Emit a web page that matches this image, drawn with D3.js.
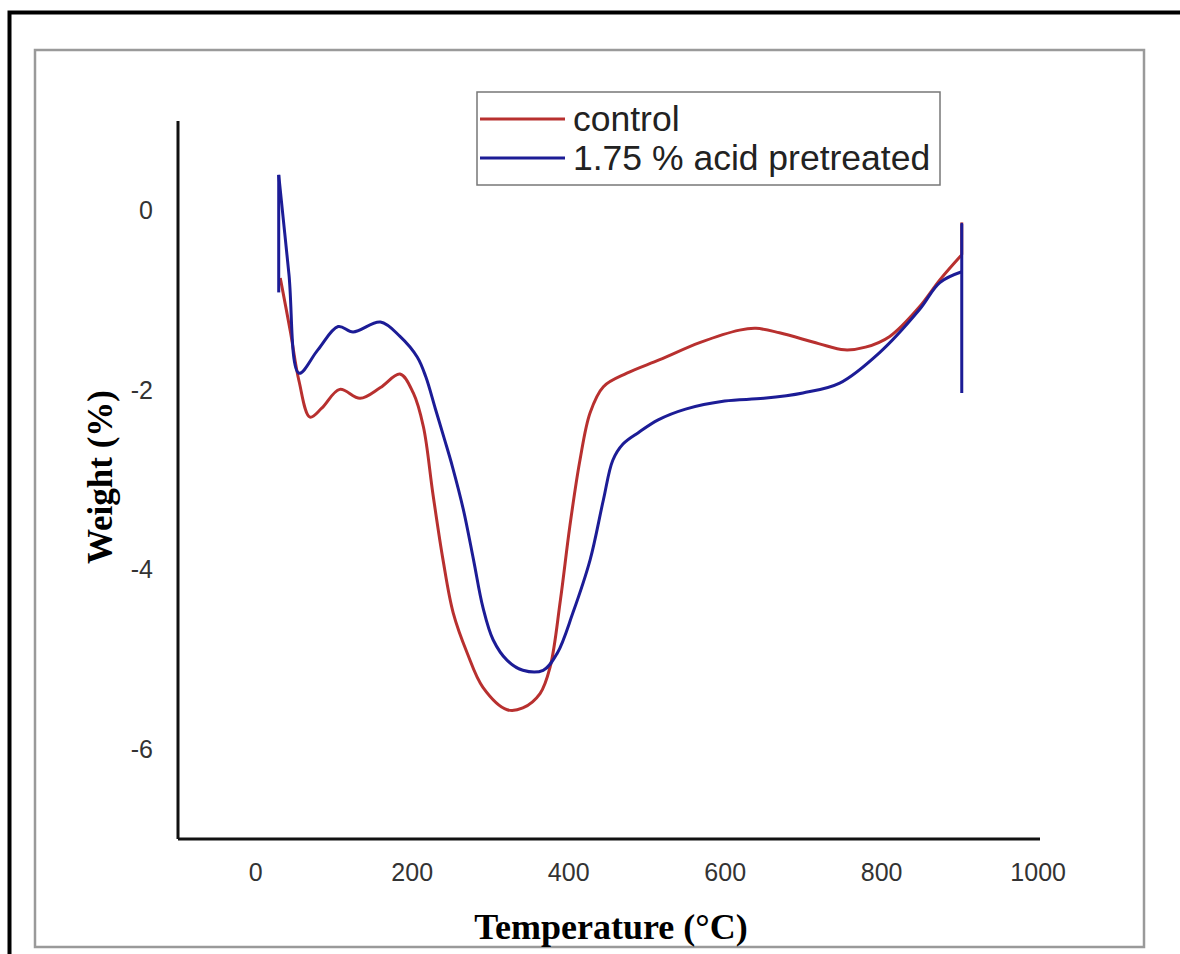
<!DOCTYPE html>
<html>
<head>
<meta charset="utf-8">
<script src="https://cdn.jsdelivr.net/npm/d3@7"></script>
<style>
  body { margin: 0; background: #fff; }
  svg { display: block; }
</style>
</head>
<body>
<div id="chart"></div>
<script>
// Series names and values (temperature in °C, weight in %)
var seriesNames = ["control", "1.75 % acid pretreated"];

var controlTemp = [32, 45, 56, 70, 85, 108, 134, 160, 185, 202, 215, 227, 240, 253, 271, 291, 322, 342, 364, 377, 390, 402, 415, 428, 445, 475, 517, 568, 619, 640, 670, 720, 753, 780, 811, 849, 875, 903, 903];
var controlWeight = [-0.75, -1.35, -1.9, -2.3, -2.2, -1.99, -2.09, -1.97, -1.82, -2.03, -2.41, -3.15, -3.89, -4.48, -4.93, -5.31, -5.56, -5.54, -5.38, -5.08, -4.34, -3.52, -2.78, -2.25, -1.96, -1.81, -1.66, -1.47, -1.33, -1.31, -1.36, -1.48, -1.55, -1.52, -1.4, -1.07, -0.77, -0.49, -0.13];

var acidTemp = [30, 30, 43, 56, 80, 106, 125, 160, 185, 207, 218, 230, 242, 252, 266, 279, 291, 304, 322, 342, 368, 386, 406, 428, 445, 457, 470, 490, 515, 550, 600, 650, 700, 747, 798, 849, 875, 903, 903, 903];
var acidWeight = [-0.91, 0.4, -0.7, -1.81, -1.55, -1.29, -1.35, -1.24, -1.4, -1.63, -1.85, -2.2, -2.55, -2.85, -3.33, -3.89, -4.42, -4.78, -5.01, -5.12, -5.12, -4.93, -4.48, -3.89, -3.22, -2.78, -2.6, -2.47, -2.33, -2.21, -2.12, -2.09, -2.03, -1.92, -1.58, -1.1, -0.8, -0.68, -0.15, -2.03];

var xTicks = [0, 200, 400, 600, 800, 1000];
var yTicks = [0, -2, -4, -6];

var colors = ["#b8302f", "#1c1c96"];

var svgWidth = 1180;
var svgHeight = 954;

var svg = d3.select("#chart")
    .append("svg")
    .attr("width", svgWidth)
    .attr("height", svgHeight);

// Outer black frame (runs off the right and bottom edges)
svg.append("rect")
    .attr("x", 9.5)
    .attr("y", 12.5)
    .attr("width", 1250)
    .attr("height", 1050)
    .attr("fill", "none")
    .attr("stroke", "#000")
    .attr("stroke-width", 4);

// Inner gray frame
svg.append("rect")
    .attr("x", 35)
    .attr("y", 50)
    .attr("width", 1109)
    .attr("height", 897)
    .attr("fill", "none")
    .attr("stroke", "#9a9a9a")
    .attr("stroke-width", 2.5);

// Scales
var xScale = d3.scaleLinear()
    .domain([-100, 1003])
    .range([177, 1040]);

var yScale = d3.scaleLinear()
    .domain([-7, 1])
    .range([839, 121]);

// Axes (plain hyphen minus, no thousands comma)
var xAxis = d3.axisBottom(xScale)
    .tickValues(xTicks)
    .tickFormat(d => String(d))
    .tickSize(0)
    .tickPadding(24);

var yAxis = d3.axisLeft(yScale)
    .tickValues(yTicks)
    .tickFormat(d => String(d))
    .tickSize(0)
    .tickPadding(25);

var gx = svg.append("g")
    .attr("transform", "translate(0, 839)")
    .call(xAxis);

var gy = svg.append("g")
    .attr("transform", "translate(178, 0)")
    .call(yAxis);

[gx, gy].forEach(function(g) {
    g.select(".domain")
        .attr("stroke", "#111")
        .attr("stroke-width", 3);
    g.selectAll("text")
        .attr("fill", "#333")
        .style("font-family", "'Liberation Sans', Arial, sans-serif")
        .style("font-size", "25px");
});
gx.select(".domain").attr("d", "M178,0H1040");
gy.select(".domain").attr("d", "M0,121V839");

// Axis titles
svg.append("text")
    .attr("x", 611)
    .attr("y", 939)
    .attr("text-anchor", "middle")
    .style("font-family", "'Liberation Serif', 'Times New Roman', serif")
    .style("font-weight", "bold")
    .style("font-size", "36px")
    .text("Temperature (°C)");

svg.append("text")
    .attr("transform", "translate(112, 477) rotate(-90)")
    .attr("text-anchor", "middle")
    .style("font-family", "'Liberation Serif', 'Times New Roman', serif")
    .style("font-weight", "bold")
    .style("font-size", "35px")
    .text("Weight (%)");

// Lines: smooth body, straight vertical spikes at the ends
var smoothLine = d3.line()
    .x(d => xScale(d[0]))
    .y(d => yScale(d[1]))
    .curve(d3.curveCatmullRom.alpha(0.5));

var straightLine = d3.line()
    .x(d => xScale(d[0]))
    .y(d => yScale(d[1]));

var controlData = controlTemp.map((t, i) => [t, controlWeight[i]]);
var acidData = acidTemp.map((t, i) => [t, acidWeight[i]]);

[controlData, acidData].forEach(function(data, i) {
    var n = data.length;
    var start = 0;
    while (start < n - 1 && data[start][0] === data[start + 1][0]) start++;
    var end = n - 1;
    while (end > 0 && data[end][0] === data[end - 1][0]) end--;

    var g = svg.append("g")
        .attr("fill", "none")
        .attr("stroke", colors[i])
        .attr("stroke-width", 3)
        .attr("stroke-linejoin", "round");

    g.append("path").attr("d", smoothLine(data.slice(start, end + 1)));
    if (start > 0) g.append("path").attr("d", straightLine(data.slice(0, start + 1)));
    if (end < n - 1) g.append("path").attr("d", straightLine(data.slice(end)));
});

// Legend
var legend = svg.append("g");

legend.append("rect")
    .attr("x", 477)
    .attr("y", 92)
    .attr("width", 463)
    .attr("height", 93)
    .attr("fill", "#fff")
    .attr("stroke", "#777")
    .attr("stroke-width", 1.5);

seriesNames.forEach(function(name, i) {
    var ly = 119 + i * 39;
    legend.append("line")
        .attr("x1", 480)
        .attr("x2", 565)
        .attr("y1", ly)
        .attr("y2", ly)
        .attr("stroke", colors[i])
        .attr("stroke-width", 3);
    legend.append("text")
        .attr("x", 573)
        .attr("y", ly + 12)
        .attr("fill", "#222")
        .style("font-family", "'Liberation Sans', Arial, sans-serif")
        .style("font-size", "35.5px")
        .text(name);
});
</script>
</body>
</html>
